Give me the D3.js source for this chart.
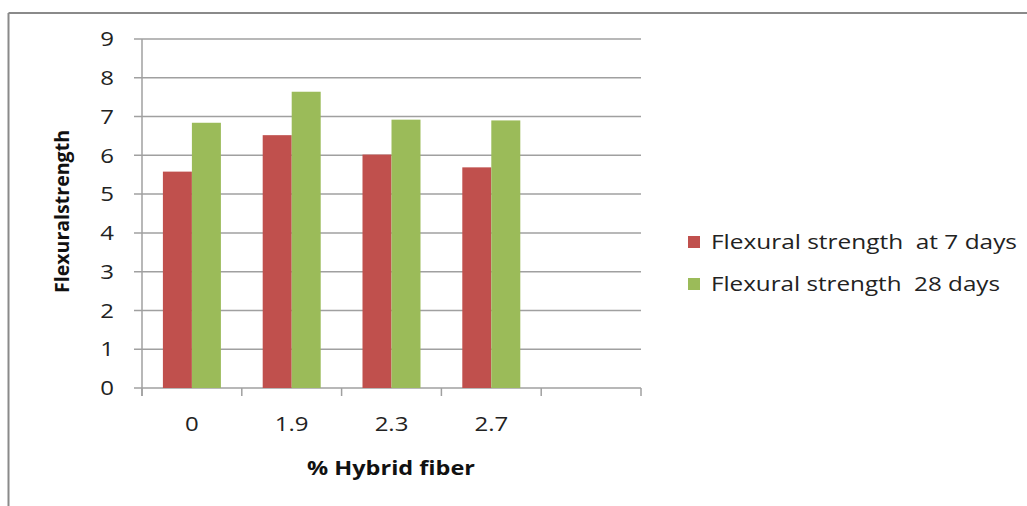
<!DOCTYPE html>
<html><head><meta charset="utf-8">
<script src="https://cdn.jsdelivr.net/npm/d3@7"></script>
<style>body{margin:0;background:#fff;} svg{display:block;}</style>
</head><body>
<svg id="c" width="1027" height="506"></svg>
<script>
const categories = ["0", "1.9", "2.3", "2.7", ""];
const seriesNames = ["Flexural strength  at 7 days", "Flexural strength  28 days"];
const day7 = [5.58, 6.52, 6.02, 5.69, null];
const day28 = [6.84, 7.64, 6.92, 6.90, null];
const yTicks = [0,1,2,3,4,5,6,7,8,9];
const colors = ["#C0504D", "#9BBB59"];

const svg = d3.select("#c");
const font = "'Open Sans', sans-serif";
// frame
svg.append("line").attr("x1",8.5).attr("x2",1027).attr("y1",13).attr("y2",13).attr("stroke","#8a8a8a").attr("stroke-width",2);
svg.append("line").attr("x1",8.5).attr("x2",8.5).attr("y1",13).attr("y2",506).attr("stroke","#8a8a8a").attr("stroke-width",2);

const L=142, R=641, T=39, B=388;
const x = d3.scaleBand().domain(categories.map((c,i)=>i)).range([L,R]).paddingInner(0).paddingOuter(0);
const y = d3.scaleLinear().domain([0,9]).range([B,T]);
const inner = d3.scaleBand().domain([0,1]).range([0,58]);

// gridlines
svg.append("g").selectAll("line").data(yTicks).join("line")
  .attr("x1",L-8).attr("x2",R).attr("y1",d=>y(d)).attr("y2",d=>y(d))
  .attr("stroke","#a0a0a0").attr("stroke-width",1.5);

// bars
const series=[day7,day28];
series.forEach((s,si)=>{
  svg.append("g").selectAll("rect").data(s.map((v,i)=>({v,i})).filter(d=>d.v!=null)).join("rect")
    .attr("x",d=>x(d.i)+(x.bandwidth()-58)/2+inner(si))
    .attr("width",inner.bandwidth())
    .attr("y",d=>y(d.v)).attr("height",d=>y(0)-y(d.v))
    .attr("fill",colors[si]);
});

// y axis line
svg.append("line").attr("x1",L).attr("x2",L).attr("y1",T).attr("y2",B+8).attr("stroke","#a0a0a0").attr("stroke-width",1.5);
// x axis ticks
const xt=d3.range(categories.length+1).map(i=>L+i*x.bandwidth());
svg.append("g").selectAll("line").data(xt).join("line")
  .attr("x1",d=>d).attr("x2",d=>d).attr("y1",B).attr("y2",B+8).attr("stroke","#a0a0a0").attr("stroke-width",1.5);

// y tick labels
svg.append("g").selectAll("g").data(yTicks).join("g")
  .attr("transform",d=>`translate(114,${y(d)}) scale(1.2,1)`)
  .append("text").attr("dy","0.36em").attr("text-anchor","end")
  .attr("font-family",font).attr("font-size",20).attr("fill","#222").text(d=>d);
// x tick labels
svg.append("g").selectAll("g").data(categories).join("g")
  .attr("transform",(d,i)=>`translate(${x(i)+x.bandwidth()/2},424) scale(1.2,1)`)
  .append("text").attr("dy","0.36em").attr("text-anchor","middle")
  .attr("font-family",font).attr("font-size",20).attr("fill","#222").text(d=>d);

// axis titles
svg.append("text").attr("x",307).attr("y",468).attr("dy","0.36em")
  .attr("font-family",font).attr("font-size",20).attr("font-weight","bold").attr("fill","#111")
  .attr("textLength",168).attr("lengthAdjust","spacingAndGlyphs").text("% Hybrid fiber");
svg.append("text").attr("transform","translate(62,293) rotate(-90)").attr("dy","0.36em")
  .attr("font-family",font).attr("font-size",19).attr("font-weight","bold").attr("fill","#111")
  .attr("textLength",163).attr("lengthAdjust","spacingAndGlyphs").text("Flexuralstrength");

// legend
const lg = svg.append("g");
const legLen = [306, 289];
seriesNames.forEach((n,i)=>{
  const yy = 242 + i*42;
  lg.append("rect").attr("x",688).attr("y",yy-6).attr("width",12).attr("height",12).attr("fill",colors[i]);
  lg.append("text").attr("x",711).attr("y",yy).attr("dy","0.36em").attr("font-family",font).attr("font-size",20)
    .attr("fill","#222").attr("textLength",legLen[i]).attr("lengthAdjust","spacingAndGlyphs")
    .style("white-space","pre").text(n);
});
</script>
</body></html>
